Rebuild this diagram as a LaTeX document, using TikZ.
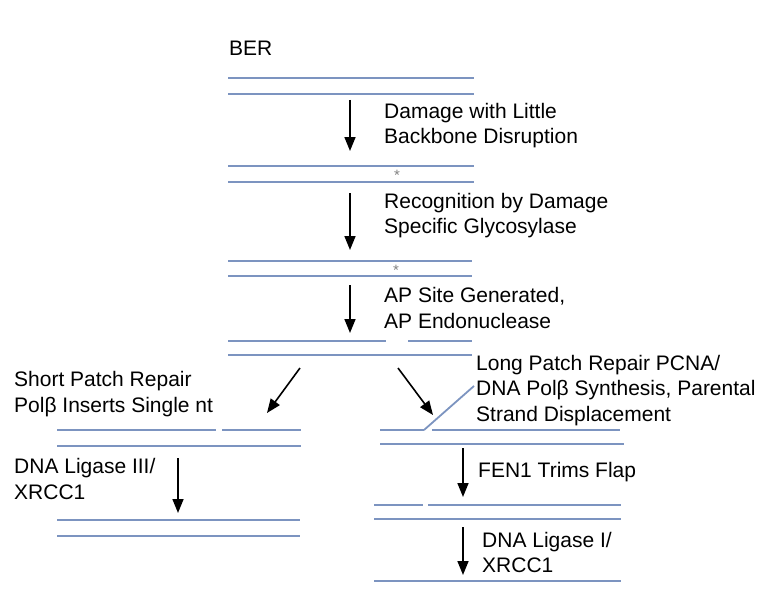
\documentclass[tikz,border=0pt]{standalone}
\usepackage{fontspec}
\setmainfont{Liberation Sans}
\usetikzlibrary{arrows.meta}
\definecolor{strandblue}{RGB}{124,148,192}
\tikzset{
  strand/.style={strandblue, line width=2.7pt},
  steparrow/.style={line width=1.6pt, -{Triangle[width=11pt,length=14pt]}},
  steplabel/.style={anchor=west, inner sep=0pt, align=left, font=\fontsize{21}{25.5}\selectfont},
  lesion/.style={inner sep=0pt, text=gray, font=\fontsize{15}{15}\selectfont}
}
\begin{document}
\begin{tikzpicture}[x=1pt, y=-1pt, line cap=butt]
	\useasboundingbox (0,0) rectangle (761,594);
	\node[steplabel] (ber) at (229,48) {BER};
	% main pathway duplexes
	\draw[strand] (228,78) -- (474,78) (228,94) -- (474,94);
	\draw[strand] (228,166) -- (474,166) (228,182) -- (474,182);
	\node[lesion] (star1) at (397,175) {*};
	\draw[strand] (228,261) -- (472,261) (228,276) -- (472,276);
	\node[lesion] (star2) at (396,270) {*};
	\draw[strand] (228,341) -- (386,341) (408,341) -- (472,341) (228,355) -- (472,355);
	% main arrows
	\foreach \n/\ya/\yb in {1/100/151, 2/193/250, 3/285/333} {
		\coordinate (s\n) at (350,\ya);
		\coordinate (e\n) at (350,\yb);
		\draw[steparrow] (s\n) -- (e\n);
	}
	\node[steplabel] (dmg) at (384,125.5) {Damage with Little\\Backbone Disruption};
	\node[steplabel] (rec) at (384,215.5) {Recognition by Damage\\Specific Glycosylase};
	\node[steplabel] (ap) at (384,308) {AP Site Generated,\\AP Endonuclease};
	% short patch branch
	\coordinate (sp1) at (300,368); \coordinate (sp2) at (267,413);
	\draw[steparrow] (sp1) -- (sp2);
	\node[steplabel] (short) at (14,394) {Short Patch Repair\\Polβ Inserts Single nt};
	\draw[strand] (57,430) -- (216,430) (222,430) -- (301,430) (57,446) -- (301,446);
	\coordinate (sl1) at (178,458); \coordinate (sl2) at (178,513);
	\draw[steparrow] (sl1) -- (sl2);
	\node[steplabel] (lig3) at (14,479) {DNA Ligase III/\\XRCC1};
	\draw[strand] (57,520) -- (300,520) (57,536) -- (300,536);
	% long patch branch
	\coordinate (lp1) at (398,368); \coordinate (lp2) at (433,415);
	\draw[steparrow] (lp1) -- (lp2);
	\node[steplabel] (long) at (476,390.5) {Long Patch Repair PCNA/\\DNA Polβ Synthesis, Parental\\Strand Displacement};
	\draw[strand] (380,430) -- (424,430) (432,430) -- (620,430) (380,444) -- (624,444);
	\draw[strandblue, line width=1.8pt] (424,430) -- (474,386);
	\coordinate (fl1) at (463,448); \coordinate (fl2) at (463,497);
	\draw[steparrow] (fl1) -- (fl2);
	\node[steplabel] (fen) at (478,472) {FEN1 Trims Flap};
	\draw[strand] (374,505) -- (423,505) (428,505) -- (621,505) (374,519) -- (621,519);
	\coordinate (lg1) at (463,527); \coordinate (lg2) at (463,575);
	\draw[steparrow] (lg1) -- (lg2);
	\node[steplabel] (lig1) at (482,552.5) {DNA Ligase I/\\XRCC1};
	\draw[strand] (374,581) -- (621,581);
\end{tikzpicture}
\end{document}
